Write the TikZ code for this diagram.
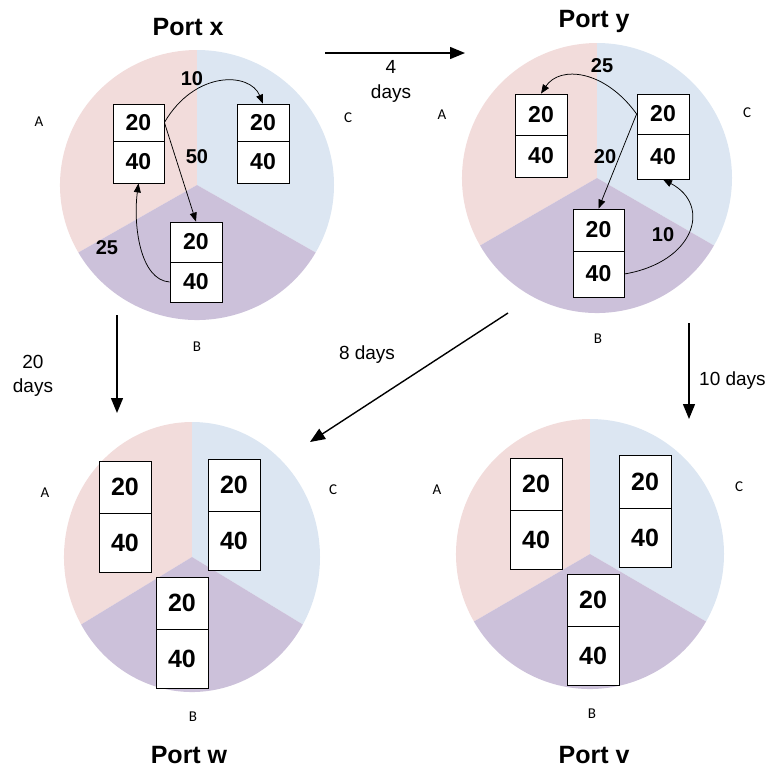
\documentclass[tikz,border=0pt]{standalone}
\usepackage{fontspec}
\setmainfont{Liberation Sans}
\newfontfamily\lblfont{Carlito}
\usetikzlibrary{arrows.meta}
\definecolor{pinkA}{HTML}{F2DCDB}
\definecolor{blueC}{HTML}{DCE6F2}
\definecolor{purpB}{HTML}{CCC1DA}
\newcommand{\cellnode}[7]{% style, name, x1, y1, x2, y2, text
  \node[#1, minimum width={#5-#3}, minimum height={#6-#4}] (#2) at ({(#3+#5)/2},{(#4+#6)/2}) {#7};}
\newcommand{\drawpie}[4]{% cx, cy, rx, ry
  \fill[pinkA] (#1,#2) -- ++(150:#3 and #4) arc[start angle=150, end angle=270, x radius=#3, y radius=#4] -- cycle;
  \fill[blueC] (#1,#2) -- ++(-90:#3 and #4) arc[start angle=-90, end angle=30, x radius=#3, y radius=#4] -- cycle;
  \fill[purpB] (#1,#2) -- ++(30:#3 and #4) arc[start angle=30, end angle=150, x radius=#3, y radius=#4] -- cycle;}
\begin{document}
\begin{tikzpicture}[x=1pt, y=-1pt,
  celltop/.style={draw=black, line width=0.8pt, fill=white, inner sep=0pt, font=\bfseries\fontsize{23}{23}\selectfont},
  cellbot/.style={draw=black, line width=0.8pt, fill=white, inner sep=0pt, font=\bfseries\fontsize{25}{25}\selectfont},
  title/.style={font=\bfseries\fontsize{25}{25}\selectfont, inner sep=0pt},
  nlab/.style={font=\bfseries\fontsize{20}{20}\selectfont, inner sep=0pt},
  dlab/.style={font=\fontsize{19}{19}\selectfont, inner sep=0pt},
  slab/.style={font=\lblfont\fontsize{15}{15}\selectfont, inner sep=0pt},
  flow/.style={draw=black, line width=0.75pt, -{Triangle[length=9pt,width=7pt]}},
  trip/.style={draw=black, line width=1.4pt, -{Triangle[length=15pt,width=12pt]}}]
\useasboundingbox (0,0) rectangle (776,769);

% pies
\drawpie{197}{185}{137}{135}
\drawpie{597}{178}{135}{135}
\drawpie{192}{557}{128}{135}
\drawpie{590}{554}{134}{135}

% titles
\node[title, anchor=base] (tx) at (188,35) {Port x};
\node[title, anchor=base] (ty) at (594,27) {Port y};
\node[title, anchor=base] (tw) at (189,763) {Port w};
\node[title, anchor=base] (tv) at (594,763) {Port v};

% A B C labels
\node[slab] (xAl) at (39,122) {A};
\node[slab] (xCl) at (348,118) {C};
\node[slab] (xBl) at (197,347) {B};
\node[slab] (yAl) at (442,115) {A};
\node[slab] (yCl) at (747,113) {C};
\node[slab] (yBl) at (598,339) {B};
\node[slab] (wAl) at (45,493) {A};
\node[slab] (wCl) at (333,490) {C};
\node[slab] (wBl) at (193,717) {B};
\node[slab] (vAl) at (437,490) {A};
\node[slab] (vCl) at (739,487) {C};
\node[slab] (vBl) at (592,714) {B};

% Port x boxes
\cellnode{celltop}{xA1}{113}{104}{164}{141}{20}
\cellnode{celltop}{xA2}{113}{141}{164}{183}{40}
\cellnode{celltop}{xC1}{237}{104}{289}{141}{20}
\cellnode{celltop}{xC2}{237}{141}{289}{183}{40}
\cellnode{celltop}{xB1}{170}{222}{222}{262}{20}
\cellnode{celltop}{xB2}{170}{262}{222}{302}{40}

% Port y boxes
\cellnode{celltop}{yA1}{515}{94}{567}{135}{20}
\cellnode{celltop}{yA2}{515}{135}{567}{177}{40}
\cellnode{celltop}{yC1}{637}{94}{689}{134}{20}
\cellnode{celltop}{yC2}{637}{134}{689}{179}{40}
\cellnode{celltop}{yB1}{573}{209}{624}{251}{20}
\cellnode{celltop}{yB2}{573}{251}{624}{297}{40}

% Port w boxes
\cellnode{cellbot}{wA1}{99}{461}{151}{513}{20}
\cellnode{cellbot}{wA2}{99}{513}{151}{572}{40}
\cellnode{cellbot}{wC1}{208}{459}{260}{511}{20}
\cellnode{cellbot}{wC2}{208}{511}{260}{570}{40}
\cellnode{cellbot}{wB1}{156}{577}{208}{629}{20}
\cellnode{cellbot}{wB2}{156}{629}{208}{688}{40}

% Port v boxes
\cellnode{cellbot}{vA1}{510}{458}{562}{510}{20}
\cellnode{cellbot}{vA2}{510}{510}{562}{569}{40}
\cellnode{cellbot}{vC1}{619}{455}{671}{508}{20}
\cellnode{cellbot}{vC2}{619}{508}{671}{567}{40}
\cellnode{cellbot}{vB1}{567}{574}{619}{626}{20}
\cellnode{cellbot}{vB2}{567}{626}{619}{685}{40}

% flows inside Port x
\draw[flow] (xA1.east) .. controls (195,70) and (250,72) .. (xC1.north);
\draw[flow] (xA1.east) -- (xB1.north);
\draw[flow] (xB2.west) .. controls (140,280) and (133,225) .. (xA2.south);
\node[nlab] (xl10) at (192,79) {10};
\node[nlab] (xl50) at (197,157) {50};
\node[nlab] (xl25) at (107,248) {25};

% flows inside Port y
\draw[flow] (yC1.west) .. controls (605,70) and (560,65) .. (yA1.north);
\draw[flow] (yC1.west) -- (yB1.north);
\draw[flow] (yB2.east) .. controls (695,262) and (712,205) .. (yC2.south);
\node[nlab] (yl25) at (602,66) {25};
\node[nlab] (yl20) at (605,157) {20};
\node[nlab] (yl10) at (663,235) {10};

% trips between ports
\coordinate (xy1) at (325,53);
\coordinate (xy2) at (465,53);
\coordinate (xw1) at (117,315);
\coordinate (xw2) at (117,413);
\coordinate (yw1) at (508,313);
\coordinate (yw2) at (310,442);
\coordinate (yv1) at (689,323);
\coordinate (yv2) at (689,419);
\draw[trip] (xy1) -- (xy2);
\draw[trip] (xw1) -- (xw2);
\draw[trip] (yw1) -- (yw2);
\draw[trip] (yv1) -- (yv2);

\node[dlab, anchor=base] (d4a) at (391,73) {4};
\node[dlab, anchor=base] (d4b) at (391,98) {days};
\node[dlab, anchor=base] (d20a) at (33,368) {20};
\node[dlab, anchor=base] (d20b) at (33,392) {days};
\node[dlab, anchor=base] (d8) at (367,359) {8 days};
\node[dlab, anchor=base west] (d10) at (699,385) {10 days};
\end{tikzpicture}
\end{document}
